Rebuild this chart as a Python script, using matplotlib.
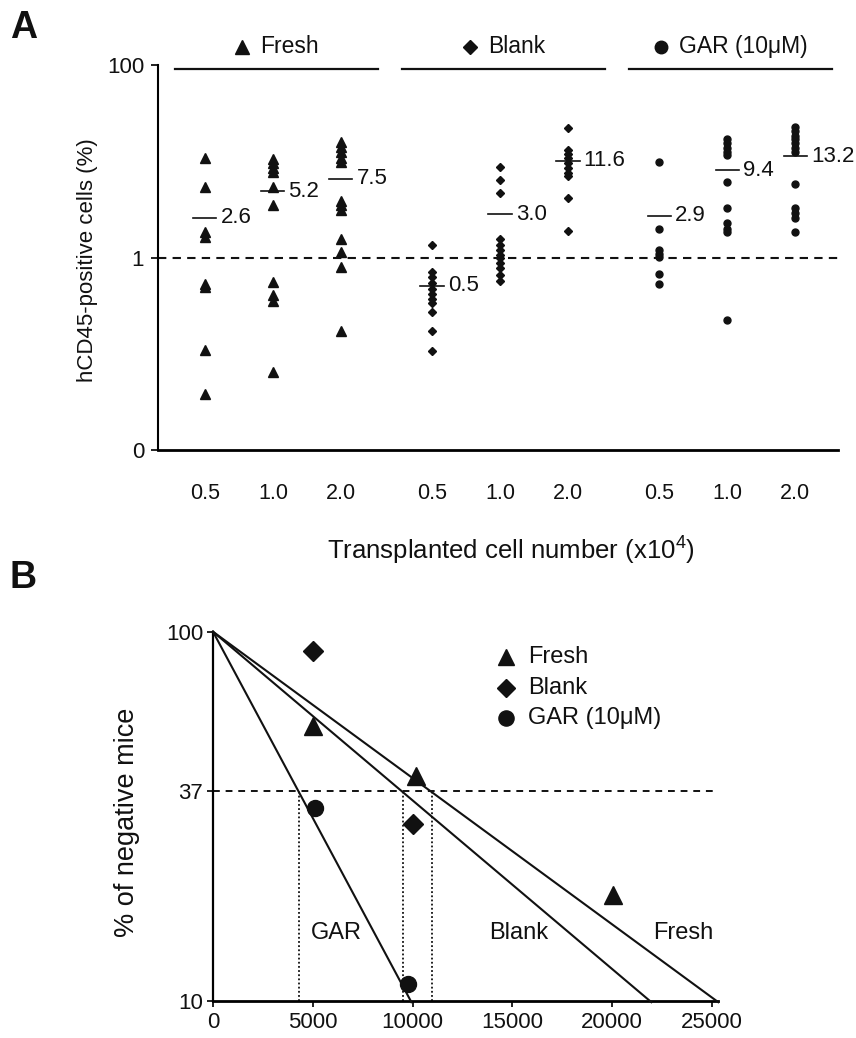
import numpy as np
import matplotlib
matplotlib.use('Agg')
import matplotlib.pyplot as plt
from matplotlib import font_manager
from matplotlib.ticker import NullLocator, FixedLocator, FixedFormatter
from matplotlib.offsetbox import AnnotationBbox, HPacker, TextArea, DrawingArea
from matplotlib.lines import Line2D

# ---------------- data ----------------
groups = ['Fresh', 'Blank', 'GAR (10μM)']
doses = ['0.5', '1.0', '2.0']

fresh_pts = [
    [10.9, 5.4, 1.85, 1.65, 0.53, 0.49, 0.11, 0.038],
    [10.5, 9.5, 8.6, 7.8, 5.4, 3.5, 0.55, 0.41, 0.35, 0.064],
    [15.8, 14.2, 12.5, 10.9, 9.8, 3.9, 3.5, 3.1, 1.57, 1.14, 0.80, 0.174],
]
blank_pts = [
    [1.36, 0.71, 0.62, 0.54, 0.47, 0.42, 0.37, 0.34, 0.27, 0.171, 0.108],
    [8.7, 6.4, 4.7, 1.54, 1.36, 1.21, 1.07, 0.98, 0.87, 0.77, 0.66, 0.57],
    [22.2, 13.1, 11.8, 10.7, 9.7, 8.6, 7.6, 7.1, 4.2, 1.88],
]
gar_pts = [
    [9.8, 2.0, 1.2, 1.1, 1.02, 0.67, 0.53],
    [17.1, 15.3, 13.8, 12.5, 11.5, 6.1, 3.3, 2.3, 2.0, 1.84, 0.226],
    [22.8, 20.5, 18.5, 16.9, 15.3, 13.8, 12.5, 5.8, 3.25, 2.9, 2.6, 1.84],
]
mean_levels = [[2.6, 4.9, 6.6], [0.51, 2.8, 10.1], [2.7, 8.1, 11.3]]
mean_labels = [['2.6', '5.2', '7.5'], ['0.5', '3.0', '11.6'], ['2.9', '9.4', '13.2']]

# panel B
fresh_x = [5000, 10150, 20050]
fresh_neg = [55.5, 40.7, 19.4]
blank_x = [5000, 10000]
blank_neg = [88.9, 30.2]
gar_x = [5100, 9750]
gar_neg = [33.3, 11.1]
cells_per_src = [10950, 9500, 4300]   # Fresh, Blank, GAR (1 in N)
line_names = ['Fresh', 'Blank', 'GAR']
line_label_pos = [(23550, 15.3), (15300, 15.3), (6200, 15.3)]
xticks_B = [0, 5000, 10000, 15000, 20000, 25000]
yticks_B = [10, 37, 100]

# ---------------- style ----------------
names = {f.name for f in font_manager.fontManager.ttflist}
REG = 'Liberation Sans' if 'Liberation Sans' in names else 'DejaVu Sans'
NAR = 'Liberation Sans Narrow' if 'Liberation Sans Narrow' in names else REG
plt.rcParams['font.family'] = [REG, 'DejaVu Sans']
plt.rcParams['mathtext.fontset'] = 'custom'
plt.rcParams['mathtext.rm'] = REG
K = '#111111'
markers = ['^', 'D', 'o']
msA = [6.5, 4.3, 5.0]
msB = [12.5, 10.0, 11.5]
msH = [10.0, 7.5, 9.0]

fig = plt.figure(figsize=(8.56, 10.38), dpi=100)

# ================= Panel A =================
axA = fig.add_axes([158/856, 1-450/1038, 680/856, 385/1038])
axA.set_yscale('log')
axA.set_ylim(0.01, 100)
axA.set_xlim(-0.69, 9.31)
for s in ['top', 'right']:
    axA.spines[s].set_visible(False)
axA.spines['left'].set_linewidth(1.5)
axA.spines['bottom'].set_linewidth(2.0)
axA.yaxis.set_major_locator(FixedLocator([0.01, 1, 100]))
axA.yaxis.set_major_formatter(FixedFormatter(['0', '1', '100']))
axA.yaxis.set_minor_locator(NullLocator())
axA.tick_params(axis='y', length=5, width=1.3, labelsize=16, pad=5, colors=K)

gap = 0.34
all_pts = [fresh_pts, blank_pts, gar_pts]
xpos, xlab = [], []
for gi, pts in enumerate(all_pts):
    start = gi * (3 + gap)
    for di, vals in enumerate(pts):
        x = start + di
        xpos.append(x)
        xlab.append(doses[di])
        axA.plot([x]*len(vals), vals, ls='none', marker=markers[gi], ms=msA[gi],
                 color=K, mec=K, clip_on=False, zorder=3)
        lvl = mean_levels[gi][di]
        axA.plot([x-0.17, x+0.17], [lvl, lvl], color=K, lw=1.2, zorder=4)
        axA.text(x+0.23, lvl, mean_labels[gi][di], va='center', ha='left',
                 fontsize=16, color=K)
    # group header
    cx = start + 1 + 0.05
    axA.plot([cx-1.49, cx+1.49], [0.9896, 0.9896], color=K, lw=1.6,
             transform=axA.get_xaxis_transform(), clip_on=False)
    da = DrawingArea(12, 12, 0, 0)
    da.add_artist(Line2D([6], [6], marker=markers[gi], ms=msH[gi], color=K, ls='none'))
    ta = TextArea(groups[gi], textprops=dict(fontsize=16.5, color=K))
    box = HPacker(children=[da, ta], align='center', pad=0, sep=7)
    ab = AnnotationBbox(box, (cx, 1.047), xycoords=axA.get_xaxis_transform(),
                        frameon=False, box_alignment=(0.5, 0.5), annotation_clip=False)
    axA.add_artist(ab)

axA.axhline(1, color=K, lw=1.5, ls=(0, (4, 3)), zorder=2)
axA.set_xticks(xpos)
axA.set_xticklabels(xlab, fontsize=15.5, family=NAR)
axA.tick_params(axis='x', length=0, pad=24, colors=K)

fig.text(88/856, 1-260/1038, 'hCD45-positive cells (%)', rotation=90,
         ha='center', va='center', fontsize=16, color=K)
fig.text(511/856, 1-550/1038, r'Transplanted cell number (x10$^{\mathregular{4}}$)',
         ha='center', va='center', fontsize=18.5, family=NAR, color=K)
fig.text(10/856, 1-28/1038, 'A', fontsize=27, fontweight='bold', va='center', ha='left', color=K)
fig.text(10/856, 1-578/1038, 'B', fontsize=27, fontweight='bold', va='center', ha='left', color=K)

# ================= Panel B =================
axB = fig.add_axes([213/856, 1-1000.7/1038, 505/856, 369/1038])
axB.set_yscale('log')
axB.set_ylim(10, 100)
axB.set_xlim(0, 25300)
for s in ['top', 'right']:
    axB.spines[s].set_visible(False)
axB.spines['left'].set_linewidth(1.6)
axB.spines['bottom'].set_linewidth(2.0)
axB.yaxis.set_major_locator(FixedLocator(yticks_B))
axB.yaxis.set_major_formatter(FixedFormatter([str(v) for v in yticks_B]))
axB.yaxis.set_minor_locator(NullLocator())
axB.set_xticks(xticks_B)
axB.set_xticklabels([str(v) for v in xticks_B])
axB.tick_params(axis='both', length=4, width=1.3, labelsize=16, colors=K)
for lab in axB.get_xticklabels() + axB.get_yticklabels():
    lab.set_family(NAR)
axB.tick_params(axis='x', pad=4)
axB.tick_params(axis='y', pad=3)

# fitted single-hit lines: percent negative = 100*exp(-x/N)
for N in cells_per_src:
    xe = N * np.log(10) * 1.004
    xs = np.array([0.0, xe])
    ys = 100 * np.exp(-xs / N)
    axB.plot(xs, ys, color=K, lw=1.5, clip_on=False, zorder=3)
    axB.plot([N, N], [10, 37], color=K, lw=1.3, ls=(0, (1, 1.3)), zorder=2)
axB.plot([0, 25200], [37, 37], color=K, lw=1.4, ls=(0, (3.5, 3)), zorder=2)

axB.plot(fresh_x, fresh_neg, ls='none', marker='^', ms=msB[0], color=K, clip_on=False, zorder=4)
axB.plot(blank_x, blank_neg, ls='none', marker='D', ms=msB[1], color=K, clip_on=False, zorder=4)
axB.plot(gar_x, gar_neg, ls='none', marker='o', ms=msB[2], color=K, clip_on=False, zorder=4)

for nm, (lx, ly) in zip(line_names, line_label_pos):
    axB.text(lx, ly, nm, ha='center', va='center', fontsize=17, family=NAR, color=K)

# legend
leg_rows = [0.931, 0.848, 0.767]
for gi in range(3):
    axB.plot([0.580], [leg_rows[gi]], marker=markers[gi], ms=msB[gi]*0.95, color=K,
             ls='none', transform=axB.transAxes, clip_on=False)
    axB.text(0.624, leg_rows[gi], groups[gi], transform=axB.transAxes, va='center',
             ha='left', fontsize=17, family=NAR, color=K)

fig.text(127/856, 1-822/1038, '% of negative mice', rotation=90, ha='center',
         va='center', fontsize=19.5, color=K)

fig.savefig('out.png', dpi=100, facecolor='white')
